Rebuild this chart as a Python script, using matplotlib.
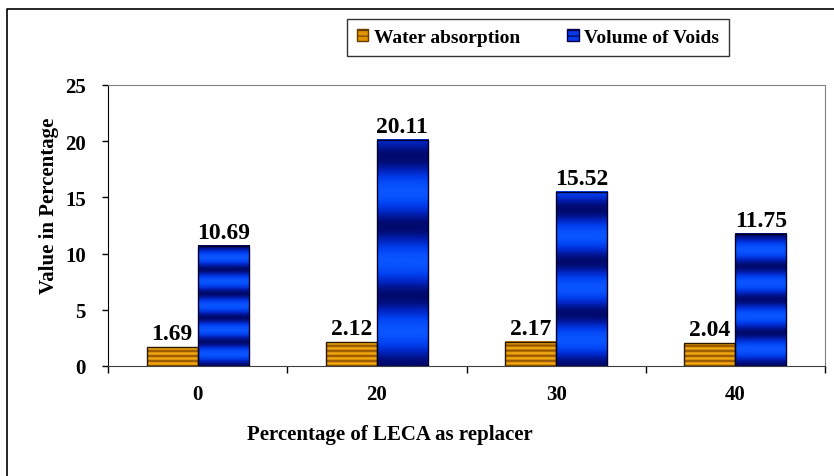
import numpy as np
import matplotlib.pyplot as plt
from matplotlib.colors import LinearSegmentedColormap
from matplotlib.patches import Patch
from matplotlib.lines import Line2D

categories = ['0', '20', '30', '40']
water_absorption = [1.69, 2.12, 2.17, 2.04]
volume_of_voids = [10.69, 20.11, 15.52, 11.75]

plt.rcParams['font.family'] = ['Liberation Serif', 'DejaVu Serif']
plt.rcParams['font.weight'] = 'bold'
plt.rcParams['hatch.linewidth'] = 0.8

fig = plt.figure(figsize=(8.34, 4.77), dpi=100)
ax = fig.add_axes([108/834, 1 - 367/477, (825 - 108)/834, (367 - 86)/477])

x = np.arange(len(categories))
w = 0.285
ymax = 25

blue_cmap = LinearSegmentedColormap.from_list(
    'blue_bands', [(0, '#000a6e'), (0.35, '#0024c0'), (0.7, '#0040f0'), (1, '#0a55ff')])
orange_cmap = LinearSegmentedColormap.from_list(
    'orange_bands', [(0, '#8a4c00'), (0.5, '#d08800'), (1, '#f8ae18')])
blue_cycles = [5, 3.25, 3.35, 4]


def banded_bar(xc, h, cmap, cycles, edge):
    # striped fill drawn as an image stretched over the bar
    t = np.linspace(0, 1, 400)
    band = 0.5 - 0.5 * np.cos(2 * np.pi * cycles * t)
    ax.imshow(band[:, None], cmap=cmap, aspect='auto', origin='lower',
              extent=(xc - w/2, xc + w/2, 0, h), zorder=2, interpolation='bilinear')
    ax.bar(xc, h, w, facecolor='none', edgecolor=edge, linewidth=1.0, zorder=3)
    ax.annotate(f'{h:.2f}', (xc, h), xytext=(0, 2), textcoords='offset points',
                ha='center', va='bottom', fontsize=17, fontweight='bold')


for i in range(len(categories)):
    hw = water_absorption[i]
    banded_bar(x[i] - w/2, hw, orange_cmap, hw / ymax * 281 / 5, '#2a1800')
    banded_bar(x[i] + w/2, volume_of_voids[i], blue_cmap, blue_cycles[i], '#00002a')

ax.set_xlim(-0.5, len(categories) - 0.5)
ax.set_ylim(0, ymax)
ax.set_yticks(range(0, 26, 5))
ax.tick_params(axis='y', labelsize=15, length=4, width=1, pad=12)

# group separators as major ticks, labels on minor ticks
ax.set_xticks(np.arange(-0.5, len(categories), 1))
ax.set_xticklabels([])
ax.set_xticks(x, minor=True)
ax.set_xticklabels(categories, minor=True)
ax.tick_params(axis='x', which='major', length=5, width=1)
ax.tick_params(axis='x', which='minor', length=0, labelsize=15, pad=13)

for s in ['top', 'right']:
    ax.spines[s].set_color('#808080')
ax.spines['bottom'].set_color('#404040')
ax.spines['left'].set_color('black')

ax.set_ylabel('Value in Percentage', fontsize=15, fontweight='bold')
ax.yaxis.set_label_coords(-0.069, 0.575)
ax.set_xlabel('Percentage of LECA as replacer', fontsize=15, fontweight='bold')
ax.xaxis.set_label_coords(0.393, -0.205)

handles = [Patch(facecolor='#e09400', edgecolor='#6a3c00', hatch='---', label='Water absorption'),
           Patch(facecolor='#0838e8', edgecolor='#00004a', hatch='---', label='Volume of Voids')]
leg = fig.legend(handles=handles, loc='center', bbox_to_anchor=((339 + 737)/2/834, 1 - 38.5/477),
                 ncol=2, fontsize=14, frameon=True, fancybox=False, edgecolor='black',
                 handlelength=0.6, handleheight=0.6, handletextpad=0.3, columnspacing=2.4,
                 borderpad=0.5, borderaxespad=0)
leg.get_frame().set_linewidth(1.0)
leg._legend_box.sep = 0
for t in leg.get_texts():
    t.set_fontweight('bold')

# outer frame around the chart
fig.add_artist(Line2D([7/834, 7/834, 1], [0, 1 - 10/477, 1 - 10/477],
                      transform=fig.transFigure, color='black', linewidth=1.2))

plt.savefig('out.png', dpi=100)
